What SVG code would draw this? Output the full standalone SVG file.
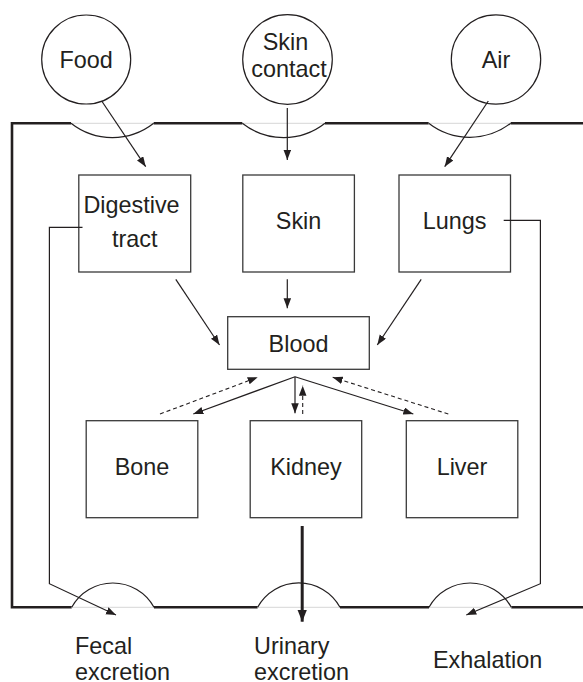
<svg xmlns="http://www.w3.org/2000/svg" width="583" height="682" viewBox="0 0 583 682">
  <defs>
    <marker id="arrow" markerUnits="userSpaceOnUse" markerWidth="11" markerHeight="8" refX="10" refY="3.75" orient="auto">
      <path d="M0,0 L10,3.75 L0,7.5 z" fill="#231f20"/>
    </marker>
    <marker id="arrow-bold" markerUnits="userSpaceOnUse" markerWidth="13" markerHeight="10" refX="12" refY="4.75" orient="auto">
      <path d="M0,0 L12,4.75 L0,9.5 z" fill="#231f20"/>
    </marker>
    <style>
      .lbl { font-family: "Liberation Sans", Arial, Helvetica, sans-serif; font-size: 23.4px; fill: #231f20; }
      .mid { text-anchor: middle; }
      .box { fill: #fff; stroke: #3a3a3a; stroke-width: 1.3; }
      .src { fill: #fff; stroke: #231f20; stroke-width: 1.2; }
      .wall { fill: none; stroke: #231f20; stroke-width: 2.6; }
      .port { fill: none; stroke: #231f20; stroke-width: 1.2; }
      .gap { stroke: #d6d6d6; stroke-width: 1; }
      .flow { fill: none; stroke: #231f20; stroke-width: 1.2; marker-end: url(#arrow); }
      .back { fill: none; stroke: #231f20; stroke-width: 1.1; stroke-dasharray: 4 3; marker-end: url(#arrow); }
    </style>
  </defs>

  <!-- body outline with its entry and exit ports -->
  <g id="body">
    <path class="wall" d="M71.7,607.3 L12,607.3 L12,123.3 L71,123.3"/>
    <path class="wall" d="M153.7,123.3 L242.3,123.3 M325,123.3 L428.7,123.3 M510.7,123.3 L583,123.3"/>
    <path class="wall" d="M154,607.3 L257.6,607.3 M340,607.3 L429,607.3 M511.3,607.3 L583,607.3"/>
    <path class="gap" d="M71,123.3 H153.7 M242.3,123.3 H325 M428.7,123.3 H510.7"/>
    <path class="gap" d="M71.7,607.3 H154 M257.6,607.3 H340 M429,607.3 H511.3"/>
    <path class="port" d="M71,123.3 A67,67 0 0 0 153.7,123.3"/>
    <path class="port" d="M242.3,123.3 A67,67 0 0 0 325,123.3"/>
    <path class="port" d="M428.7,123.3 A67,67 0 0 0 510.7,123.3"/>
    <path class="port" d="M71.7,607.3 A47,47 0 0 1 154,607.3"/>
    <path class="port" d="M257.6,607.3 A47,47 0 0 1 340,607.3"/>
    <path class="port" d="M429,607.3 A47,47 0 0 1 511.3,607.3"/>
  </g>

  <!-- exposure sources -->
  <g id="food">
    <circle class="src" cx="86.2" cy="59.5" r="44.5"/>
    <text class="lbl mid" x="86.2" y="68.3">Food</text>
  </g>
  <g id="skin-contact">
    <circle class="src" cx="287.5" cy="59.5" r="44.8"/>
    <text class="lbl mid" x="285.5" y="50">Skin</text>
    <text class="lbl mid" x="289" y="77.3">contact</text>
  </g>
  <g id="air">
    <circle class="src" cx="496" cy="59.5" r="44.7"/>
    <text class="lbl mid" x="496" y="68.3">Air</text>
  </g>

  <!-- uptake organs -->
  <g id="digestive-tract">
    <rect class="box" x="78.8" y="175" width="111.9" height="97"/>
    <text class="lbl mid" x="131.5" y="213.3">Digestive</text>
    <text class="lbl mid" x="134.7" y="247.3">tract</text>
  </g>
  <g id="skin">
    <rect class="box" x="242.8" y="175" width="111.6" height="97"/>
    <text class="lbl mid" x="298.6" y="229.3">Skin</text>
  </g>
  <g id="lungs">
    <rect class="box" x="399" y="175" width="111.5" height="97"/>
    <text class="lbl mid" x="454.7" y="229.3">Lungs</text>
  </g>

  <g id="blood">
    <rect class="box" x="227.7" y="316.7" width="141.6" height="52.6"/>
    <text class="lbl mid" x="298.5" y="351.7">Blood</text>
  </g>

  <!-- storage / clearance organs -->
  <g id="bone">
    <rect class="box" x="86.2" y="420.7" width="111.6" height="97"/>
    <text class="lbl mid" x="142" y="475">Bone</text>
  </g>
  <g id="kidney">
    <rect class="box" x="250.2" y="420.7" width="111.5" height="97"/>
    <text class="lbl mid" x="306" y="475">Kidney</text>
  </g>
  <g id="liver">
    <rect class="box" x="406.3" y="420.7" width="111.5" height="97"/>
    <text class="lbl mid" x="462" y="475">Liver</text>
  </g>

  <!-- excretion routes -->
  <g id="fecal-excretion">
    <text class="lbl" x="75" y="654.3">Fecal</text>
    <text class="lbl" x="75" y="679.5">excretion</text>
  </g>
  <g id="urinary-excretion">
    <text class="lbl" x="254" y="654.3">Urinary</text>
    <text class="lbl" x="254" y="679.5">excretion</text>
  </g>
  <g id="exhalation">
    <text class="lbl" x="433" y="667.7">Exhalation</text>
  </g>

  <!-- connectors -->
  <g id="connectors">
    <line class="flow" x1="101.7" y1="101" x2="145.7" y2="166.7"/>
    <line class="flow" x1="287.3" y1="108" x2="287.3" y2="160"/>
    <line class="flow" x1="488.3" y1="101" x2="444.7" y2="166.7"/>

    <line class="flow" x1="175.8" y1="279.3" x2="219.5" y2="345"/>
    <line class="flow" x1="287.3" y1="279.3" x2="287.3" y2="308.3"/>
    <line class="flow" x1="421.2" y1="279.3" x2="377.3" y2="345"/>

    <line class="flow" x1="295" y1="376.7" x2="193.3" y2="414"/>
    <line class="flow" x1="295" y1="376.7" x2="295" y2="413.3"/>
    <line class="flow" x1="295" y1="376.7" x2="413.3" y2="414"/>

    <line class="back" x1="160" y1="414" x2="257.7" y2="377.3"/>
    <line class="back" x1="302.7" y1="414" x2="302.7" y2="385.7"/>
    <line class="back" x1="448.3" y1="414" x2="332.7" y2="377.3"/>

    <polyline class="flow" points="82.5,227.3 49.4,227.3 49.4,583.7 116,615"/>
    <polyline class="flow" points="503.7,220.3 540.4,220.3 540.4,583.7 466.3,615"/>

    <line x1="302.2" y1="526" x2="302.2" y2="621.7" stroke="#231f20" stroke-width="3" marker-end="url(#arrow-bold)"/>
  </g>
</svg>
